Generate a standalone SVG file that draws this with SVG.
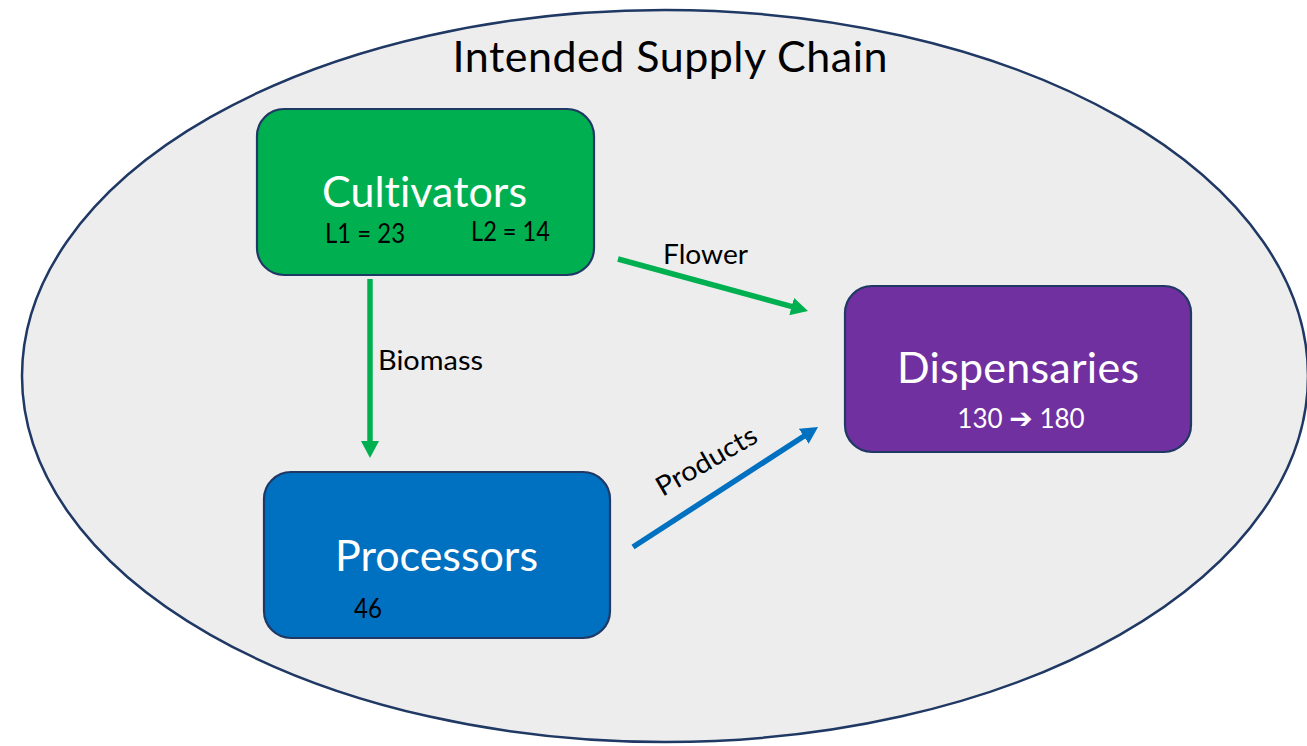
<svg xmlns="http://www.w3.org/2000/svg" width="1307" height="746" viewBox="0 0 1307 746">
<defs>
<style>
text{font-family:Lato,"Liberation Sans",sans-serif;font-variant-ligatures:none;}
.box{stroke:#1F3864;stroke-width:2.2;}
.big{font-size:43px;fill:#FFFFFF;text-anchor:middle;}
.small{font-size:26px;fill:#000000;}
.lbl{font-size:27px;fill:#000000;}
.green{stroke:#00B050;stroke-width:5.5;fill:none;}
.blue{stroke:#0070C0;stroke-width:5.5;fill:none;}
</style>
<marker id="ahG" viewBox="0 0 17 18" markerWidth="17" markerHeight="18" refX="0.5" refY="9" orient="auto" markerUnits="userSpaceOnUse"><path d="M0,0 L17,9 L0,18 z" fill="#00B050"/></marker>
<marker id="ahB" viewBox="0 0 17 18" markerWidth="17" markerHeight="18" refX="0.5" refY="9" orient="auto" markerUnits="userSpaceOnUse"><path d="M0,0 L17,9 L0,18 z" fill="#0070C0"/></marker>
</defs>
<rect width="1307" height="746" fill="#FFFFFF"/>
<g id="boundary">
<ellipse cx="665" cy="376" rx="643" ry="366" fill="#EDEDED" stroke="#1F3864" stroke-width="2.5"/>
<text x="670" y="72" font-size="43" fill="#000" text-anchor="middle" textLength="435">Intended Supply Chain</text>
</g>
<g id="connectors">
<line class="green" x1="370" y1="279" x2="370" y2="441.5" marker-end="url(#ahG)"/>
<line class="green" x1="618" y1="259" x2="792.1" y2="306.6" marker-end="url(#ahG)"/>
<line class="blue" x1="633" y1="547" x2="804.2" y2="436" marker-end="url(#ahB)"/>
<text class="lbl" x="378" y="370" textLength="105" lengthAdjust="spacingAndGlyphs">Biomass</text>
<text class="lbl" x="663" y="264" textLength="85" lengthAdjust="spacingAndGlyphs">Flower</text>
<text class="lbl" text-anchor="middle" transform="translate(711,469) rotate(-30)" textLength="112" lengthAdjust="spacingAndGlyphs">Products</text>
</g>
<g id="cultivators">
<rect class="box" x="257" y="109" width="337" height="166" rx="27" fill="#00B050"/>
<text class="big" x="424.5" y="207" textLength="205">Cultivators</text>
<text class="small" x="325" y="243" textLength="80" lengthAdjust="spacingAndGlyphs">L1 = 23</text>
<text class="small" x="471" y="241" textLength="79" lengthAdjust="spacingAndGlyphs">L2 = 14</text>
</g>
<g id="dispensaries">
<rect class="box" x="845" y="286" width="346" height="166" rx="27" fill="#7030A0"/>
<text class="big" x="1018" y="383" textLength="242">Dispensaries</text>
<text x="1021" y="428" font-size="26" fill="#FFFFFF" text-anchor="middle">130 <tspan font-family="DejaVu Sans" font-weight="bold" font-size="28">➔</tspan> 180</text>
</g>
<g id="processors">
<rect class="box" x="264" y="472" width="346" height="166" rx="27" fill="#0070C0"/>
<text class="big" x="436.5" y="571" textLength="203">Processors</text>
<text class="small" x="354" y="618" textLength="28" lengthAdjust="spacingAndGlyphs">46</text>
</g>
</svg>
